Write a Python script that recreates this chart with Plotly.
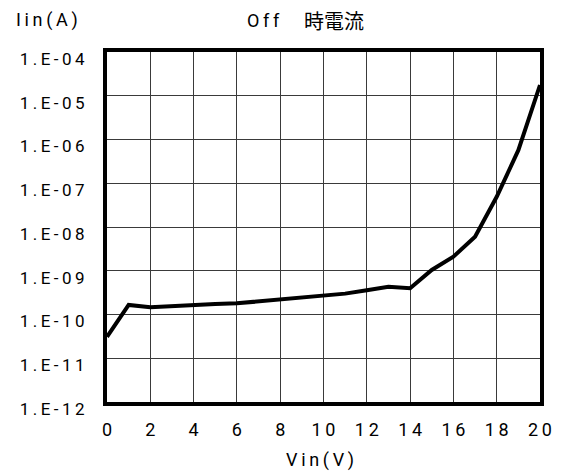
import plotly.graph_objects as go

vin = [0, 1, 2, 3, 4, 5, 6, 7, 8, 9, 10, 11, 12, 13, 14, 15, 16, 17, 18, 19, 20]
iin = [3.1e-11, 1.65e-10, 1.46e-10, 1.56e-10, 1.6e-10, 1.74e-10, 1.8e-10, 2.0e-10,
       2.2e-10, 2.47e-10, 2.7e-10, 3.0e-10, 3.6e-10, 4.3e-10, 4.0e-10, 1.04e-9,
       2.1e-9, 6.0e-9, 4.9e-8, 5.7e-7, 1.76e-5]

y_tickvals = [1e-12, 1e-11, 1e-10, 1e-9, 1e-8, 1e-7, 1e-6, 1e-5, 1e-4]
y_ticktext = ["1.E-12", "1.E-11", "1.E-10", "1.E-09", "1.E-08", "1.E-07", "1.E-06", "1.E-05", "1.E-04"]
x_tickvals = [0, 2, 4, 6, 8, 10, 12, 14, 16, 18, 20]
x_ticktext = ["0", "2", "4", "6", "8", "10", "12", "14", "16", "18", "20"]

title_latin = "Off"
title_cjk = "時電流"
y_title = "Iin(A)"
x_title = "Vin(V)"

SP = "\u2009"


def spaced(s, sep=SP):
    return sep.join(list(s))


fig = go.Figure()
fig.add_trace(go.Scatter(x=vin, y=iin, mode="lines",
                         line=dict(color="black", width=4), showlegend=False))

grid = "#3a3a3a"
fig.update_xaxes(range=[0, 20], tickvals=x_tickvals, ticktext=[spaced(t) for t in x_ticktext],
                 showgrid=True, gridcolor=grid, gridwidth=1.3,
                 showline=True, linecolor="black", linewidth=4, mirror=True,
                 ticks="", zeroline=False, ticklabelstandoff=8,
                 tickfont=dict(family="Roboto", size=18, color="black"))
fig.update_yaxes(type="log", range=[-12, -4], tickvals=y_tickvals,
                 ticktext=[spaced(t) for t in y_ticktext],
                 showgrid=True, gridcolor=grid, gridwidth=1.3,
                 showline=True, linecolor="black", linewidth=4, mirror=True,
                 ticks="", zeroline=False, ticklabelstandoff=15, ticklabelshift=7,
                 tickfont=dict(family="Roboto", size=17, color="black"))

tfont = "Roboto"
W, H = 556, 467
L, R, T, B = 94, 19, 44, 73
pw, ph = W - L - R, H - T - B


def px_x(x):
    return (x - 8 - L) / pw


def px_y(y):
    return 1 - (y - 8 - T) / ph


fig.update_layout(
    width=W, height=H,
    margin=dict(l=L, r=R, t=T, b=B),
    paper_bgcolor="white", plot_bgcolor="white",
    font=dict(family="Roboto"),
    annotations=[
        dict(xref="paper", yref="paper", x=px_x(41), y=px_y(20),
             xanchor="center", yanchor="middle", showarrow=False,
             text=spaced(y_title), font=dict(family=tfont, size=18, color="black")),
        dict(xref="paper", yref="paper", x=px_x(243), y=px_y(20),
             xanchor="left", yanchor="middle", showarrow=False,
             text=spaced(title_latin), font=dict(family=tfont, size=18, color="black")),
        dict(xref="paper", yref="paper", x=px_x(301), y=px_y(20),
             xanchor="left", yanchor="middle", showarrow=False,
             text=title_cjk, font=dict(family="Noto Sans CJK JP", size=20, color="black")),
        dict(xref="paper", yref="paper", x=px_x(320), y=px_y(460),
             xanchor="center", yanchor="middle", showarrow=False,
             text=spaced(x_title), font=dict(family=tfont, size=18, color="black")),
    ],
)

fig.write_html("out.html")
